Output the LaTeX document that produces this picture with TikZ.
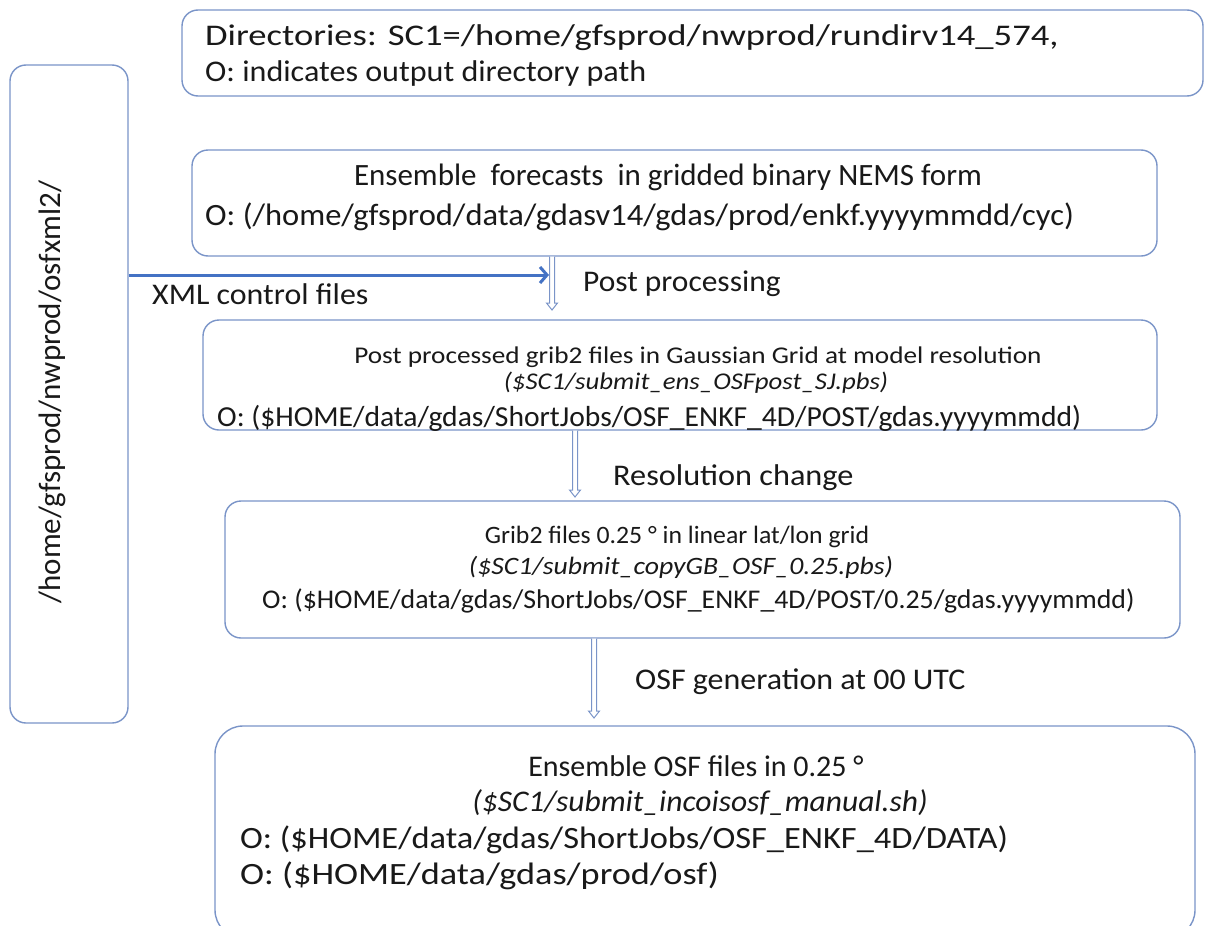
\documentclass[tikz,border=0pt]{standalone}
\usepackage{fontspec}
\usepackage{graphicx}
\setmainfont{Carlito}
\usetikzlibrary{calc,arrows.meta}
\definecolor{bord}{RGB}{122,148,200}
\definecolor{xmlblue}{RGB}{68,114,196}
\definecolor{txt}{RGB}{25,25,25}
\tikzset{
  box/.style={draw=bord, line width=1.4pt, rounded corners=16pt, inner sep=0pt, fill=white},
  lbl/.style={inner sep=0pt, text=txt, anchor=mid west},
  clbl/.style={inner sep=0pt, text=txt, anchor=mid},
  hol/.style={draw=bord, line width=1pt, fill=white, line join=miter},
}
\newcommand\fs[1]{\fontsize{#1}{#1}\selectfont}
\newcommand\hs[2]{\scalebox{#1}[1]{#2}}
\newcommand\holarrow[2]{\draw[hol] let \p1=(#1), \p2=(#2) in
  (\x1-2.5pt,\y1) -- (\x1-2.5pt,\y2+7pt) -- (\x1-5.5pt,\y2+7pt) -- (\x1,\y2)
  -- (\x1+5.5pt,\y2+7pt) -- (\x1+2.5pt,\y2+7pt) -- (\x1+2.5pt,\y1);}
\begin{document}
\begin{tikzpicture}[x=1pt,y=-1pt]
\useasboundingbox (0,0) rectangle (1205,926);
\fill[white] (0,0) rectangle (1205,926);

% boxes
\node[box, minimum width=1021pt, minimum height=86pt] (b0) at (692.5,53) {};
\node[box, minimum width=118pt, minimum height=658pt] (bl) at (69,394) {};
\node[box, minimum width=965pt, minimum height=106pt] (b2) at (674.5,203) {};
\node[box, minimum width=954pt, minimum height=110pt] (b3) at (680,375) {};
\node[box, minimum width=955pt, minimum height=137pt] (b4) at (702.5,569.5) {};
\node[box, minimum width=980pt, minimum height=212pt, rounded corners=28pt] (b5) at (705,832) {};

% texts
\node[lbl] (t01) at (205,43) {\fs{30}\hs{1.22}{Directories: SC1=/home/gfsprod/nwprod/rundirv14\_574,}};
\node[lbl] (t02) at (205,79) {\fs{30}\hs{1.07}{O: indicates output directory path}};

\node[clbl, rotate=90] (tl) at (58,392) {\fs{31}/home/gfsprod/nwprod/osfxml2/};

\node[clbl] (t21) at (668,183) {\fs{31}Ensemble\ \ forecasts\ \ in gridded binary NEMS form};
\node[lbl] (t22) at (205,223) {\fs{31}\hs{1.048}{O: (/home/gfsprod/data/gdasv14/gdas/prod/enkf.yyyymmdd/cyc)}};

\node[lbl] (xml) at (152,302) {\fs{30}\hs{1.064}{XML control files}};
\node[lbl] (pp) at (583,289) {\fs{30}\hs{1.048}{Post processing}};

\node[clbl] (t31) at (698,361) {\fs{24}\hs{1.134}{Post processed grib2 files in Gaussian Grid at model resolution}};
\node[clbl] (t32) at (696,387) {\fs{24}\hs{1.117}{\itshape(\$SC1/submit\_ens\_OSFpost\_SJ.pbs)}};
\node[lbl] (t33) at (217,424) {\fs{29}\hs{1.02}{O: (\$HOME/data/gdas/ShortJobs/OSF\_ENKF\_4D/POST/gdas.yyyymmdd)}};

\node[lbl] (rc) at (613,483) {\fs{30}\hs{1.076}{Resolution change}};

\node[clbl] (t41) at (677,541) {\fs{25}\hs{1.03}{Grib2 files 0.25 ° in linear lat/lon grid}};
\node[clbl] (t42) at (681,572) {\fs{25}\hs{1.11}{\itshape(\$SC1/submit\_copyGB\_OSF\_0.25.pbs)}};
\node[lbl] (t43) at (262,606) {\fs{27}\hs{1.03}{O: (\$HOME/data/gdas/ShortJobs/OSF\_ENKF\_4D/POST/0.25/gdas.yyyymmdd)}};

\node[lbl] (og) at (635,687) {\fs{30}\hs{1.065}{OSF generation at 00 UTC}};

\node[clbl] (t51) at (696,774) {\fs{30}Ensemble OSF files in 0.25 °};
\node[clbl] (t52) at (700,809) {\fs{30}\hs{1.05}{\itshape(\$SC1/submit\_incoisosf\_manual.sh)}};
\node[lbl] (t53) at (240,846) {\fs{31}\hs{1.11}{O: (\$HOME/data/gdas/ShortJobs/OSF\_ENKF\_4D/DATA)}};
\node[lbl] (t54) at (240,882) {\fs{31}\hs{1.17}{O: (\$HOME/data/gdas/prod/osf)}};

% connectors
\coordinate (x1e) at (549,275);
\draw[xmlblue, line width=3pt, -{Straight Barb[length=7pt,width=16pt,line width=3pt]}] (bl.east |- x1e) -- (x1e);

\coordinate (a1e) at (552,310);
\coordinate (a2e) at (575,497);
\coordinate (a3e) at (594,718);
\holarrow{b2.south -| a1e}{a1e}
\holarrow{b3.south -| a2e}{a2e}
\holarrow{b4.south -| a3e}{a3e}
\end{tikzpicture}
\end{document}
